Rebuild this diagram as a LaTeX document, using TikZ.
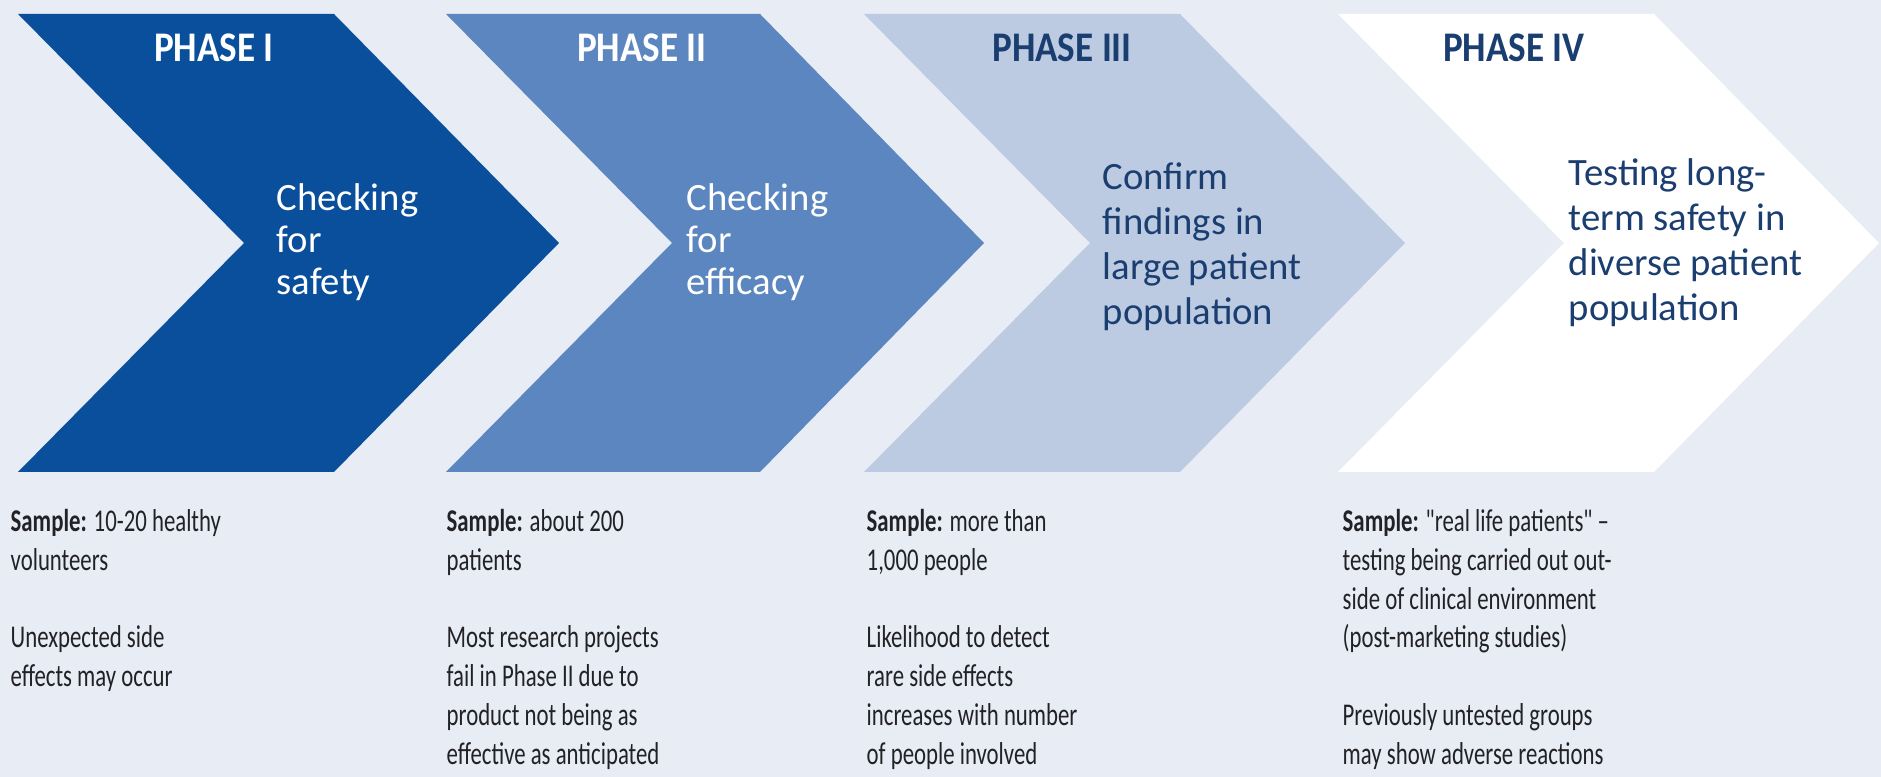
\documentclass[tikz,border=0pt]{standalone}
\usepackage{fontspec}
\setmainfont{Carlito}
\newfontfamily\headfont[FakeStretch=0.88]{Carlito}
\newfontfamily\notefont[FakeStretch=0.72]{Carlito}
\usetikzlibrary{positioning}
\definecolor{bgblue}{RGB}{232,236,245}
\definecolor{phaseone}{RGB}{10,79,155}
\definecolor{phasetwo}{RGB}{92,134,191}
\definecolor{phasethree}{RGB}{188,203,226}
\definecolor{navy}{RGB}{27,62,112}
\definecolor{ink}{RGB}{34,34,38}

\begin{document}
\begin{tikzpicture}[x=0.01cm,y=-0.01cm]
  \tikzstyle{head}=[font=\headfont\bfseries\fontsize{12}{14}\selectfont,inner sep=0pt]
  \tikzstyle{aim}=[font=\fontsize{11}{12.8}\selectfont,align=left,anchor=west,inner sep=0pt]
  \tikzstyle{note}=[font=\notefont\fontsize{9}{11}\selectfont,align=left,anchor=north west,inner sep=0pt,text=ink]

  \useasboundingbox (0,0) rectangle (1881,777);
  \fill[bgblue] (0,0) rectangle (1881,777);

  % the four chevrons
  \fill[phaseone] (18,14) -- (334,14) -- (559,243) -- (334,472) -- (18,472) -- (244,243) -- cycle;
  \fill[phasetwo] (446,14) -- (760,14) -- (984,243) -- (760,472) -- (446,472) -- (672,243) -- cycle;
  \fill[phasethree] (864,14) -- (1180,14) -- (1405,243) -- (1180,472) -- (864,472) -- (1090,243) -- cycle;
  \fill[white] (1338,14) -- (1654,14) -- (1879,243) -- (1654,472) -- (1338,472) -- (1564,243) -- cycle;

  \node[head,white] (p1) at (214,48) {PHASE I};
  \node[head,white] (p2) at (642,48) {PHASE II};
  \node[head,navy] (p3) at (1062,48) {PHASE III};
  \node[head,navy] (p4) at (1514,48) {PHASE IV};

  \node[aim,white,font=\fontsize{11}{12}\selectfont] (aim1) at (276,242) {Checking\\for\\safety};
  \node[aim,white,font=\fontsize{11}{12}\selectfont] (aim2) at (686,242) {Checking\\for\\efficacy};
  \node[aim,navy] (aim3) at (1102,247) {Confirm\\findings in\\large patient\\population};
  \node[aim,navy] (aim4) at (1568,243) {Testing long-\\term safety in\\diverse patient\\population};

  % notes below
  \node[note] (n1) at (10,509) {\textbf{Sample:} 10-20 healthy\\volunteers\\[11pt]Unexpected side\\effects may occur};
  \node[note] (n2) at (446,509) {\textbf{Sample:} about 200\\patients\\[11pt]Most research projects\\fail in Phase II due to\\product not being as\\effective as anticipated};
  \node[note] (n3) at (866,509) {\textbf{Sample:} more than\\1,000 people\\[11pt]Likelihood to detect\\rare side effects\\increases with number\\of people involved};
  \node[note] (n4) at (1342,509) {\textbf{Sample:} "real life patients" –\\testing being carried out out-\\side of clinical environment\\(post-marketing studies)\\[11pt]Previously untested groups\\may show adverse reactions};
\end{tikzpicture}
\end{document}
